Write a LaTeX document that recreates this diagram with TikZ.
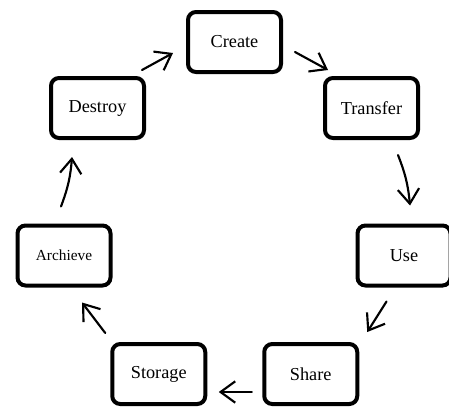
\documentclass[tikz,border=0pt]{standalone}
\usepackage{fontspec}
\setmainfont{Liberation Serif}
\usepackage{tikz}
\usetikzlibrary{arrows.meta}
\tikzset{
  stage/.style={rectangle, draw, line width=3pt, rounded corners=6pt, minimum width=69.75pt, minimum height=45pt, inner sep=0pt, align=center, font=\fontsize{13.7}{16}\selectfont},
  smallstage/.style={stage, font=\fontsize{11.5}{14}\selectfont},
  arrow/.style={-{Straight Barb[length=11pt, width=16pt, line width=1.6pt]}, line width=1.6pt, line cap=round},
}

\begin{document}
\begin{tikzpicture}[x=0.75pt, y=-0.75pt]
  \useasboundingbox (0,0) rectangle (449,408);
  % stages of the cycle
  \node[stage] (create) at (234.5,42) {Create};
  \node[stage] (transfer) at (371.5,108) {Transfer};
  \node[stage] (use) at (404,255.5) {Use};
  \node[stage] (share) at (310.75,374) {Share};
  \node[stage] (storage) at (158.75,374) {Storage};
  \node[smallstage] (archieve) at (64,255.5) {Archieve};
  \node[stage] (destroy) at (97.5,108) {Destroy};

  % arrows between stages
  \draw[arrow] ([shift={(-4,-6)}]destroy.north east) -- ([shift={(-13,11)}]create.west);
  \draw[arrow] ([shift={(12,10)}]create.east) -- ([shift={(5,-6)}]transfer.north west);
  \draw[arrow] ([shift={(26.5,15)}]transfer.south) to[bend left=8] ([shift={(6,-18)}]use.north);
  \draw[arrow] ([shift={(31,14)}]use.south west) -- ([shift={(8,-10)}]share.north east);
  \draw[arrow] ([shift={(-10.5,18)}]share.west) -- ([shift={(11.5,18)}]storage.east);
  \draw[arrow] ([shift={(-5,-9)}]storage.north west) -- ([shift={(18,15)}]archieve.south);
  \draw[arrow] ([shift={(-3,-17)}]archieve.north) to[bend right=8] ([shift={(-25.5,17)}]destroy.south);
\end{tikzpicture}
\end{document}
